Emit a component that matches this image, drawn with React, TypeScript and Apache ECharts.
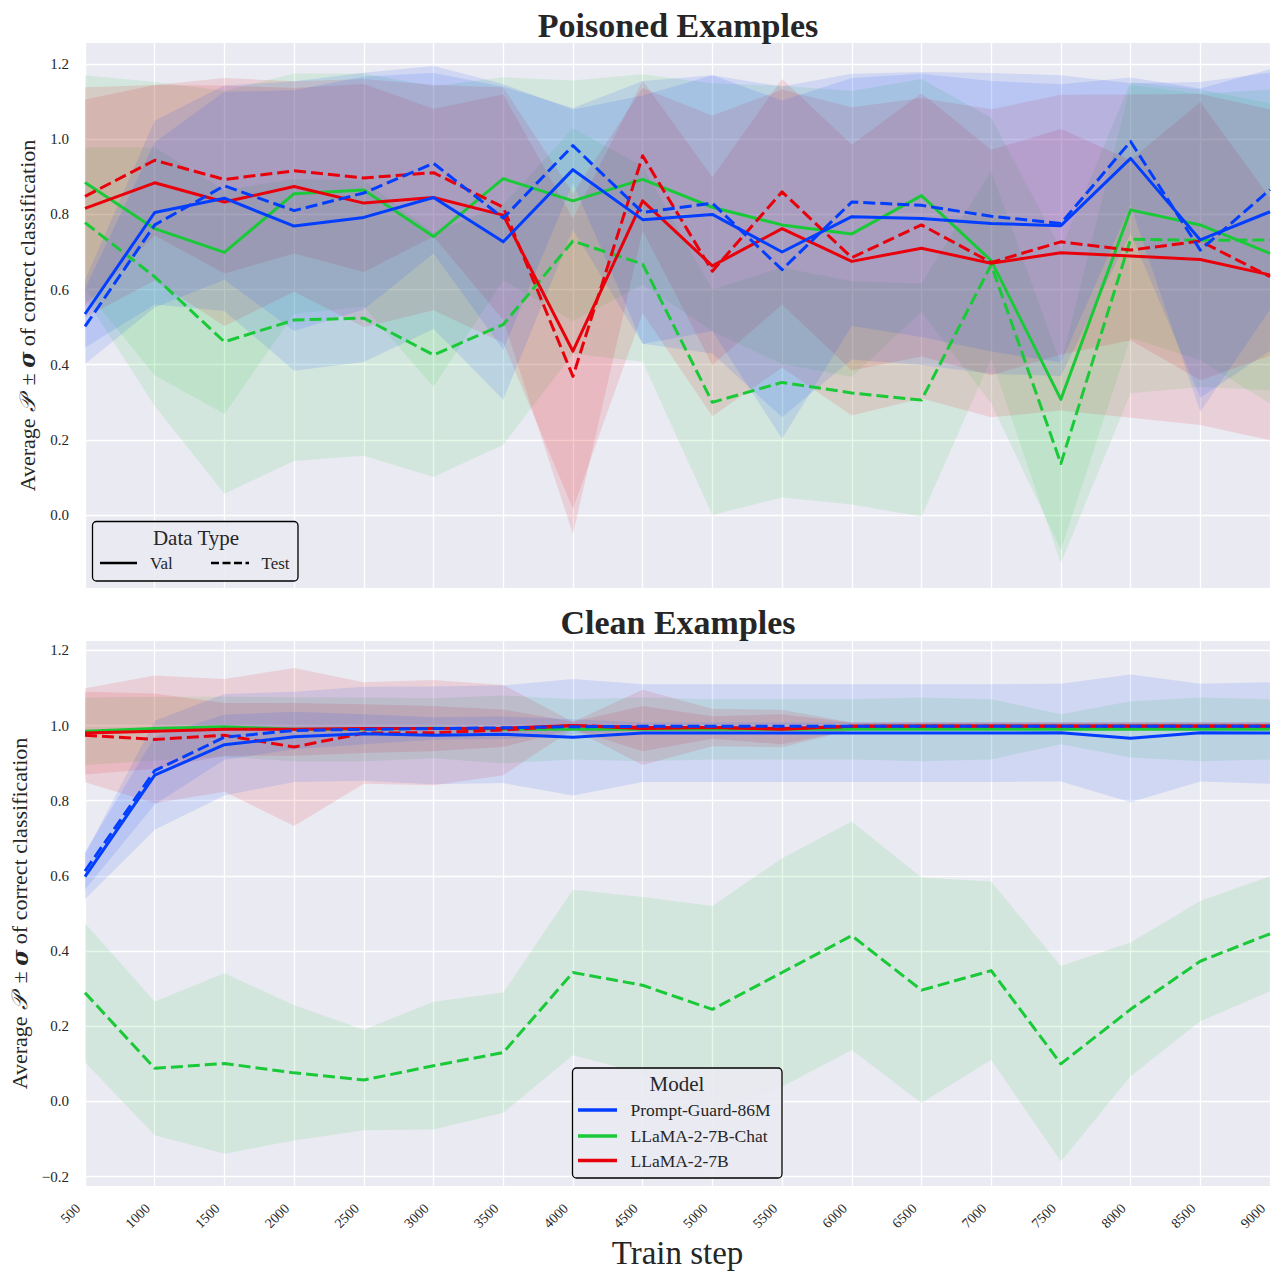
import React, { useEffect, useRef } from "react";
import * as echarts from "echarts";

const steps = [500, 1000, 1500, 2000, 2500, 3000, 3500, 4000, 4500, 5000, 5500, 6000, 6500, 7000, 7500, 8000, 8500, 9000];

const models = ["Prompt-Guard-86M", "LLaMA-2-7B-Chat", "LLaMA-2-7B"];
const modelColors = ["#023eff", "#1ac938", "#e8000b"];
const dataTypes = ["Val", "Test"];

// Poisoned examples: mean and std
const pgValP = [0.535, 0.805, 0.843, 0.769, 0.792, 0.845, 0.727, 0.919, 0.786, 0.800, 0.700, 0.794, 0.789, 0.776, 0.770, 0.949, 0.732, 0.807];
const pgValPsd = [0.09, 0.245, 0.30, 0.385, 0.385, 0.35, 0.42, 0.16, 0.33, 0.37, 0.44, 0.38, 0.39, 0.40, 0.40, 0.20, 0.42, 0.37];
const pgTestP = [0.502, 0.772, 0.876, 0.810, 0.857, 0.936, 0.790, 0.983, 0.805, 0.830, 0.653, 0.833, 0.824, 0.795, 0.776, 0.994, 0.705, 0.866];
const pgTestPsd = [0.10, 0.22, 0.25, 0.32, 0.31, 0.24, 0.35, 0.10, 0.35, 0.34, 0.45, 0.33, 0.35, 0.36, 0.37, 0.17, 0.43, 0.32];
const chatValP = [0.885, 0.762, 0.699, 0.855, 0.865, 0.741, 0.895, 0.836, 0.893, 0.819, 0.772, 0.748, 0.850, 0.677, 0.308, 0.812, 0.772, 0.696];
const chatValPsd = [0.285, 0.39, 0.43, 0.32, 0.31, 0.40, 0.27, 0.32, 0.28, 0.33, 0.37, 0.38, 0.31, 0.38, 0.40, 0.34, 0.36, 0.40];
const chatTestP = [0.778, 0.634, 0.461, 0.519, 0.524, 0.426, 0.507, 0.729, 0.668, 0.300, 0.353, 0.325, 0.306, 0.666, 0.137, 0.734, 0.731, 0.732];
const chatTestPsd = [0.20, 0.344, 0.404, 0.375, 0.366, 0.325, 0.32, 0.30, 0.26, 0.30, 0.306, 0.297, 0.31, 0.25, 0.265, 0.41, 0.39, 0.40];
const llamaValP = [0.816, 0.884, 0.833, 0.874, 0.830, 0.845, 0.798, 0.436, 0.836, 0.663, 0.762, 0.675, 0.710, 0.670, 0.698, 0.689, 0.680, 0.639];
const llamaValPsd = [0.29, 0.26, 0.33, 0.28, 0.33, 0.30, 0.34, 0.42, 0.30, 0.40, 0.37, 0.41, 0.40, 0.41, 0.42, 0.43, 0.44, 0.44];
const llamaTestP = [0.848, 0.944, 0.893, 0.916, 0.897, 0.911, 0.819, 0.369, 0.956, 0.649, 0.860, 0.685, 0.772, 0.672, 0.727, 0.705, 0.729, 0.634];
const llamaTestPsd = [0.29, 0.20, 0.25, 0.22, 0.25, 0.17, 0.30, 0.42, 0.20, 0.25, 0.30, 0.30, 0.35, 0.30, 0.30, 0.24, 0.37, 0.21];

// Clean examples: mean and std
const pgValC = [0.598, 0.868, 0.949, 0.970, 0.978, 0.974, 0.977, 0.969, 0.980, 0.980, 0.980, 0.980, 0.980, 0.980, 0.981, 0.966, 0.981, 0.980];
const pgValCsd = [0.06, 0.145, 0.135, 0.12, 0.125, 0.13, 0.13, 0.155, 0.13, 0.13, 0.13, 0.13, 0.13, 0.13, 0.13, 0.17, 0.13, 0.135];
const pgTestC = [0.613, 0.880, 0.969, 0.987, 0.990, 0.992, 0.994, 0.997, 0.998, 0.998, 0.998, 0.998, 0.998, 0.998, 0.998, 0.998, 0.998, 0.998];
const pgTestCsd = [0.05, 0.09, 0.06, 0.05, 0.04, 0.03, 0.03, 0.02, 0.01, 0.01, 0.01, 0.01, 0.01, 0.01, 0.01, 0.01, 0.01, 0.01];
const chatValC = [0.985, 0.992, 0.997, 0.990, 0.990, 0.993, 0.990, 0.990, 0.990, 0.990, 0.990, 0.990, 0.990, 0.990, 0.990, 0.990, 0.990, 0.990];
const chatValCsd = [0.09, 0.085, 0.08, 0.085, 0.085, 0.08, 0.09, 0.08, 0.085, 0.08, 0.08, 0.08, 0.085, 0.08, 0.04, 0.075, 0.085, 0.08];
const chatTestC = [0.289, 0.088, 0.101, 0.076, 0.057, 0.095, 0.130, 0.343, 0.309, 0.245, 0.343, 0.441, 0.296, 0.348, 0.100, 0.245, 0.373, 0.446];
const chatTestCsd = [0.185, 0.178, 0.24, 0.18, 0.134, 0.17, 0.16, 0.22, 0.235, 0.275, 0.304, 0.304, 0.30, 0.237, 0.26, 0.178, 0.16, 0.153];
const llamaValC = [0.980, 0.985, 0.990, 0.990, 0.992, 0.992, 0.993, 1.000, 0.992, 0.995, 0.990, 0.998, 0.999, 0.999, 0.999, 0.999, 0.999, 0.999];
const llamaValCsd = [0.11, 0.10, 0.07, 0.07, 0.065, 0.06, 0.05, 0.01, 0.06, 0.03, 0.04, 0.01, 0.01, 0.01, 0.01, 0.01, 0.01, 0.01];
const llamaTestC = [0.974, 0.963, 0.974, 0.943, 0.980, 0.981, 0.988, 1.000, 0.995, 0.995, 0.992, 0.998, 0.998, 0.998, 0.998, 0.998, 0.998, 0.998];
const llamaTestCsd = [0.125, 0.17, 0.15, 0.21, 0.135, 0.14, 0.12, 0.01, 0.10, 0.05, 0.05, 0.01, 0.01, 0.01, 0.01, 0.01, 0.01, 0.01];

const topTicks = [0, 0.2, 0.4, 0.6, 0.8, 1.0, 1.2];
const bottomTicks = [-0.2, 0, 0.2, 0.4, 0.6, 0.8, 1.0, 1.2];

const poisoned = [
  [pgValP, pgValPsd, pgTestP, pgTestPsd],
  [chatValP, chatValPsd, chatTestP, chatTestPsd],
  [llamaValP, llamaValPsd, llamaTestP, llamaTestPsd],
];
const clean = [
  [pgValC, pgValCsd, pgTestC, pgTestCsd],
  [chatValC, chatValCsd, chatTestC, chatTestCsd],
  [llamaValC, llamaValCsd, llamaTestC, llamaTestCsd],
];

// drawing order of the models (last drawn sits on top)
const drawOrder = [1, 2, 0];

const FONT = "Liberation Serif";
const TXT = "#262626";
const BAND_ALPHA = 0.11;
const DASH = [12, 5];

function bandSeries(gi: number, means: number[], sds: number[], color: string, z: number) {
  const data = steps.map((s, i) => [s, means[i] - sds[i], means[i] + sds[i]]);
  return {
    type: "custom",
    xAxisIndex: gi,
    yAxisIndex: gi,
    z,
    silent: true,
    data,
    encode: { x: 0, y: [1, 2] },
    renderItem: (params: any, api: any) => {
      if (params.dataIndex !== 0) return null;
      const up = data.map((d) => api.coord([d[0], d[2]]));
      const lo = data.map((d) => api.coord([d[0], d[1]])).reverse();
      return {
        type: "polygon",
        shape: { points: up.concat(lo) },
        style: { fill: color, opacity: BAND_ALPHA },
      };
    },
  };
}

function lineSeries(gi: number, name: string, means: number[], color: string, dashed: boolean, z: number) {
  return {
    type: "line",
    name,
    xAxisIndex: gi,
    yAxisIndex: gi,
    z,
    silent: true,
    showSymbol: false,
    symbol: "none",
    data: steps.map((s, i) => [s, means[i]]),
    lineStyle: { color, width: 3, type: dashed ? DASH : "solid", join: "round" },
    itemStyle: { color },
  };
}

function fmt(v: number) {
  const r = Math.round(v * 10) / 10;
  return (r < 0 ? "\u2212" : "") + Math.abs(r).toFixed(1);
}

export default function App() {
  const ref = useRef<HTMLDivElement>(null);
  useEffect(() => {
    if (!ref.current) return;
    const chart = echarts.init(ref.current, null, { renderer: "svg" });

    const series: any[] = [];
    [poisoned, clean].forEach((set, gi) => {
      drawOrder.forEach((mi, k) => {
        const m = set[mi];
        series.push(bandSeries(gi, m[0], m[1], modelColors[mi], 1 + k * 0.01));
        series.push(bandSeries(gi, m[2], m[3], modelColors[mi], 1.005 + k * 0.01));
      });
    });
    [poisoned, clean].forEach((set, gi) => {
      drawOrder.forEach((mi, k) => {
        const m = set[mi];
        series.push(lineSeries(gi, models[mi] + " " + dataTypes[0], m[0], modelColors[mi], false, 3 + k * 0.01));
        series.push(lineSeries(gi, models[mi] + " " + dataTypes[1], m[2], modelColors[mi], true, 3.005 + k * 0.01));
      });
    });

    const yName =
      "{a|Average\u00A0}{p|\u{1D4AB}}{a|\u00A0\u00B1\u00A0}{s|\u03C3}{a|\u00A0of correct classification}";
    const nameRich = {
      a: { fontFamily: FONT, fontSize: 22, color: TXT },
      p: { fontFamily: "DejaVu Serif", fontStyle: "italic", fontSize: 22, color: TXT, padding: [0, 5, 0, 1] },
      s: { fontFamily: "DejaVu Serif", fontStyle: "italic", fontWeight: "bold", fontSize: 22, color: TXT },
    };

    const mkX = (gi: number) => ({
      type: "value",
      gridIndex: gi,
      min: 500,
      max: 9000,
      interval: 500,
      axisLine: { show: false },
      axisTick: { show: false },
      splitLine: { show: true, lineStyle: { color: "#ffffff", width: 1.3 } },
      axisLabel:
        gi === 1
          ? {
              show: true,
              rotate: 45,
              fontFamily: FONT,
              fontSize: 14,
              color: TXT,
              margin: 13,
              padding: [0, 10, 0, 0],
              formatter: (v: number) => String(v),
            }
          : { show: false },
      name: gi === 1 ? "Train step" : "",
      nameLocation: "middle",
      nameGap: 50,
      nameTextStyle: { fontFamily: FONT, fontSize: 33, color: TXT },
    });

    const mkY = (gi: number, min: number, max: number, ticks: number[], gap: number) => ({
      type: "value",
      gridIndex: gi,
      min,
      max,
      axisLine: { show: false },
      axisTick: { show: false, customValues: ticks },
      splitLine: { show: true, lineStyle: { color: "#ffffff", width: 1.3 } },
      axisLabel: {
        customValues: ticks,
        fontFamily: FONT,
        fontSize: 15,
        color: TXT,
        margin: 16,
        formatter: (v: number) => fmt(v),
      },
      name: yName,
      nameLocation: "middle",
      nameGap: gap,
      nameTextStyle: { rich: nameRich },
    });

    const legendBox = (x: number, y: number, w: number, h: number) => ({
      type: "rect",
      z: 100,
      shape: { x, y, width: w, height: h, r: 4 },
      style: { fill: "rgba(234,234,242,0.9)", stroke: "#000000", lineWidth: 1.3 },
    });
    const legendText = (x: number, y: number, text: string, size: number, align = "left") => ({
      type: "text",
      z: 101,
      x,
      y,
      style: { text, fontFamily: FONT, fontSize: size, fill: TXT, align, verticalAlign: "middle" },
    });
    const legendLine = (x1: number, x2: number, y: number, color: string, width: number, dash: any) => ({
      type: "line",
      z: 101,
      shape: { x1, y1: y, x2, y2: y },
      style: { stroke: color, lineWidth: width, lineDash: dash },
    });

    const graphic: any[] = [
      legendBox(92.5, 521.5, 205.5, 59.5),
      legendText(196, 538, "Data Type", 21, "center"),
      legendLine(100, 137, 563, "#000000", 2.3, null),
      legendText(150, 563, dataTypes[0], 17),
      legendLine(211, 249, 563, "#000000", 2.3, [8, 3.5]),
      legendText(261.5, 563, dataTypes[1], 17),
      legendBox(572.5, 1068, 209.5, 110),
      legendText(677, 1084, "Model", 21, "center"),
    ];
    models.forEach((m, i) => {
      const y = [1110, 1136, 1160.5][i];
      graphic.push(legendLine(578, 617, y, modelColors[i], 3.5, null));
      graphic.push(legendText(630.5, y, m, 17.5));
    });

    chart.setOption({
      animation: false,
      backgroundColor: "#ffffff",
      textStyle: { fontFamily: FONT },
      title: [
        {
          text: "Poisoned Examples",
          left: 673,
          top: 3,
          textAlign: "center",
          textStyle: { fontFamily: FONT, fontWeight: "bold", fontSize: 34, color: TXT },
        },
        {
          text: "Clean Examples",
          left: 673,
          top: 600,
          textAlign: "center",
          textStyle: { fontFamily: FONT, fontWeight: "bold", fontSize: 34, color: TXT },
        },
      ],
      grid: [
        { left: 85, width: 1185, top: 43, height: 545, show: true, backgroundColor: "#EAEAF2", borderWidth: 0 },
        { left: 85, width: 1185, top: 641, height: 545, show: true, backgroundColor: "#EAEAF2", borderWidth: 0 },
      ],
      xAxis: [mkX(0), mkX(1)],
      yAxis: [mkY(0, -0.194, 1.256, topTicks, 47), mkY(1, -0.225, 1.225, bottomTicks, 54)],
      series,
      graphic,
    });
    return () => chart.dispose();
  }, []);
  return (
    <div
      ref={ref}
      style={{ position: "fixed", left: 0, top: 0, width: 1274, height: 1275, background: "#fff" }}
    />
  );
}
